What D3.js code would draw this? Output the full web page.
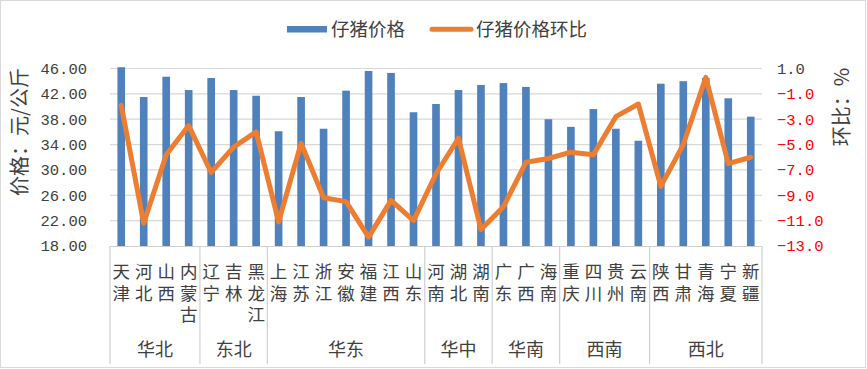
<!DOCTYPE html>
<html><head><meta charset="utf-8">
<script src="https://cdn.jsdelivr.net/npm/d3@7/dist/d3.min.js"></script>
<style>
html,body{margin:0;padding:0;background:#fff;}
svg{display:block;}
text{font-family:"Noto Sans CJK SC","Noto Sans",sans-serif;fill:#404040;}
.num{font-family:"Liberation Mono",monospace;}
.vert{writing-mode:vertical-rl;text-orientation:upright;}
</style></head>
<body>
<svg id="chart" width="867" height="369"></svg>
<script>
const provinces = ["天津","河北","山西","内蒙古","辽宁","吉林","黑龙江","上海","江苏","浙江","安徽","福建","江西","山东","河南","湖北","湖南","广东","广西","海南","重庆","四川","贵州","云南","陕西","甘肃","青海","宁夏","新疆"];
const regions = ["华北","东北","华东","华中","华南","西南","西北"];
const regionCounts = [4,3,7,3,3,4,5];
const price = [46.2,41.5,44.7,42.6,44.5,42.6,41.7,36.1,41.5,36.5,42.5,45.6,45.3,39.1,40.4,42.6,43.4,43.7,43.1,38.0,36.8,39.6,36.5,34.6,43.6,44.0,44.5,41.3,38.4];
const mom = [-1.9,-11.2,-5.8,-3.5,-7.2,-5.2,-4.0,-11.1,-4.9,-9.2,-9.5,-12.3,-9.4,-11.0,-7.3,-4.5,-11.7,-9.9,-6.4,-6.1,-5.6,-5.8,-2.8,-1.8,-8.3,-5.0,0.3,-6.5,-6.0];
const leftTicks = [18,22,26,30,34,38,42,46];
const rightTicks = [1,-1,-3,-5,-7,-9,-11,-13];
const seriesNames = ["仔猪价格","仔猪价格环比"];
const axisTitles = ["价格：元/公斤","环比：%"];

const svg = d3.select("#chart");
const W = 867, H = 369;
const L = 110, R = 762, T = 68.5, B = 246;
const blue = "#4f81bd", orange = "#ed7d31", grid = "#d9d9d9";

svg.append("rect").attr("x",0.5).attr("y",0.5).attr("width",W-2).attr("height",H-2)
  .attr("fill","#fff").attr("stroke","#d9d9d9");

const x = d3.scaleBand().domain(provinces).range([L,R]).paddingInner(0.66).paddingOuter(0.33);
const yL = d3.scaleLinear().domain([18,46]).range([B,T]);
const yR = d3.scaleLinear().domain([-13,1]).range([B,T]);

// gridlines
svg.append("g").selectAll("line").data(leftTicks.filter(d=>d>18)).join("line")
  .attr("x1",L).attr("x2",R).attr("y1",d=>yL(d)).attr("y2",d=>yL(d))
  .attr("stroke",grid).attr("stroke-width",1.2);

// left labels
svg.append("g").selectAll("text").data(leftTicks).join("text")
  .attr("class","num").attr("x",87).attr("y",d=>yL(d)).attr("dy","0.35em")
  .attr("text-anchor","end").attr("font-size",15.5).text(d=>d3.format(".2f")(d));

// right labels
svg.append("g").selectAll("text").data(rightTicks).join("text")
  .attr("class","num").attr("x",777).attr("y",d=>yR(d)).attr("dy","0.35em")
  .attr("text-anchor","start").attr("font-size",15.5)
  .style("fill",d=>d<0?"#ff0000":"#404040").text(d=>d3.format(".1f")(d));

// bars
svg.append("g").selectAll("rect").data(provinces).join("rect")
  .attr("x",d=>x(d)).attr("width",x.bandwidth())
  .attr("y",(d,i)=>yL(price[i])).attr("height",(d,i)=>B-yL(price[i]))
  .attr("fill",blue);

// x axis line
svg.append("line").attr("x1",L).attr("x2",R).attr("y1",B+0.5).attr("y2",B+0.5)
  .attr("stroke","#d0d0d0").attr("stroke-width",1.2);

// line
const line = d3.line().x((d,i)=>x(provinces[i])+x.bandwidth()/2).y(d=>yR(d));
svg.append("path").datum(mom).attr("d",line).attr("fill","none")
  .attr("stroke",orange).attr("stroke-width",5).attr("stroke-linejoin","round").attr("stroke-linecap","round");

// category labels (vertical text)
const step = x.step();
svg.append("g").selectAll("text").data(provinces).join("text")
  .attr("class","vert")
  .attr("x",d=>x(d)+x.bandwidth()/2).attr("y",262.5)
  .attr("font-size",17.5).style("letter-spacing","4.3px")
  .text(d=>d);

// region separators and labels
let start = 0;
const bounds = [0];
regionCounts.forEach(c=>{start+=c;bounds.push(start);});
svg.append("g").selectAll("line").data(bounds).join("line")
  .attr("x1",d=>L+d*step).attr("x2",d=>L+d*step).attr("y1",B).attr("y2",364)
  .attr("stroke","#d0d0d0").attr("stroke-width",1.2);
svg.append("g").selectAll("text").data(regions).join("text")
  .attr("x",(d,i)=>L+(bounds[i]+bounds[i+1])/2*step).attr("y",350).attr("dy","0.36em")
  .attr("text-anchor","middle").attr("font-size",18).text(d=>d);

// axis titles
svg.append("text").attr("transform","translate(20,132) rotate(-90)").attr("text-anchor","middle")
  .attr("dy","0.36em").attr("font-size",20).text(axisTitles[0]);
svg.append("text").attr("transform","translate(842,107) rotate(-90)").attr("text-anchor","middle")
  .attr("dy","0.36em").attr("font-size",20).text(axisTitles[1]);

// legend
const lg = svg.append("g");
lg.append("rect").attr("x",287).attr("y",26).attr("width",40).attr("height",6.5).attr("fill",blue);
lg.append("text").attr("x",331).attr("y",29).attr("dy","0.36em").attr("font-size",18.5).text(seriesNames[0]);
lg.append("line").attr("x1",432).attr("x2",471).attr("y1",29.2).attr("y2",29.2)
  .attr("stroke",orange).attr("stroke-width",5).attr("stroke-linecap","round");
lg.append("text").attr("x",476).attr("y",29).attr("dy","0.36em").attr("font-size",18.5).text(seriesNames[1]);
</script>
</body></html>
